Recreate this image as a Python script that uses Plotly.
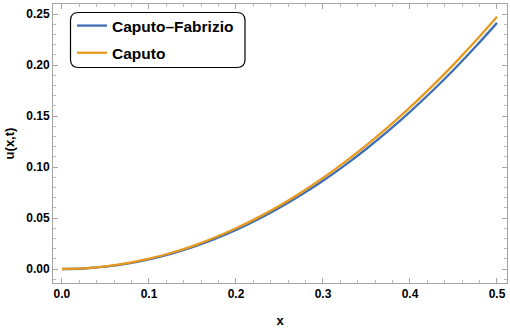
import plotly.graph_objects as go

x_vals = [0, 0.025, 0.05, 0.075, 0.1, 0.125, 0.15, 0.175, 0.2, 0.225, 0.25,
          0.275, 0.3, 0.325, 0.35, 0.375, 0.4, 0.425, 0.45, 0.475, 0.5]
caputo_fabrizio = [0, 0.0005, 0.0023, 0.0053, 0.0095, 0.0149, 0.0214, 0.0292, 0.0382, 0.0485, 0.0600,
                   0.0727, 0.0865, 0.1016, 0.1179, 0.1354, 0.1541, 0.1740, 0.1951, 0.2176, 0.2413]
caputo = [0, 0.0006, 0.0025, 0.0057, 0.0101, 0.0157, 0.0225, 0.0306, 0.0399, 0.0504, 0.0621,
          0.0751, 0.0893, 0.1048, 0.1214, 0.1393, 0.1585, 0.1788, 0.2004, 0.2232, 0.2472]
series_names = ["Caputo\u2013Fabrizio", "Caputo"]
x_ticks = [0.0, 0.1, 0.2, 0.3, 0.4, 0.5]
y_ticks = [0.00, 0.05, 0.10, 0.15, 0.20, 0.25]

BLUE = "#3F6EB4"
ORANGE = "#E8991C"
FONT = "Liberation Sans, Arial, sans-serif"

fig = go.Figure()
fig.add_trace(go.Scatter(x=x_vals, y=caputo_fabrizio, mode="lines", name=series_names[0],
                         legendgroup="a",
                         line=dict(color=BLUE, width=2.3, shape="spline")))
fig.add_trace(go.Scatter(x=x_vals, y=caputo, mode="lines", name=series_names[1],
                         legendgroup="b",
                         line=dict(color=ORANGE, width=2.3, shape="spline")))

axis_common = dict(
    showline=True, linecolor="#A6A6A6", linewidth=1, mirror="ticks",
    ticks="inside", ticklen=5, tickwidth=1, tickcolor="#A6A6A6",
    showgrid=False, zeroline=False, automargin=False,
    tickfont=dict(family=FONT, size=12, color="black", weight="bold"),
)

fig.update_xaxes(range=[-0.0103, 0.5115], tickvals=x_ticks, tickformat=".1f",
                 minor=dict(dtick=0.02, tick0=0, ticks="inside", ticklen=3, tickcolor="#BBBBBB"),
                 title=dict(text="x", font=dict(family=FONT, size=13, color="black", weight="bold"), standoff=19),
                 **axis_common)
fig.update_yaxes(range=[-0.0137, 0.2598], tickvals=y_ticks, tickformat=".2f",
                 minor=dict(dtick=0.01, tick0=0, ticks="inside", ticklen=3, tickcolor="#BBBBBB"),
                 title=dict(text="u(x,t)", font=dict(family=FONT, size=13, color="black", weight="bold"), standoff=8),
                 **axis_common)

# rounded legend frame (pixel-based in paper coords)
plot_l, plot_r, plot_t, plot_b = 53, 507, 4, 283
pw, ph = plot_r - plot_l, plot_b - plot_t
def px(xp): return (xp - plot_l) / pw
def py(yp): return (plot_b - yp) / ph
L, R, T, B, r = 70.5, 245, 12.5, 67.5, 8
path = (f"M {px(L + r)},{py(T)} L {px(R - r)},{py(T)} Q {px(R)},{py(T)} {px(R)},{py(T + r)} "
        f"L {px(R)},{py(B - r)} Q {px(R)},{py(B)} {px(R - r)},{py(B)} "
        f"L {px(L + r)},{py(B)} Q {px(L)},{py(B)} {px(L)},{py(B - r)} "
        f"L {px(L)},{py(T + r)} Q {px(L)},{py(T)} {px(L + r)},{py(T)} Z")
fig.add_shape(type="path", path=path, xref="paper", yref="paper",
              line=dict(color="black", width=1.2), fillcolor="white", layer="below")

fig.update_layout(
    width=510, height=328,
    margin=dict(l=53, r=3, t=4, b=45, autoexpand=False),
    paper_bgcolor="white", plot_bgcolor="white",
    showlegend=True,
    legend=dict(x=px(72), y=py(9), xanchor="left", yanchor="top",
                bgcolor="rgba(0,0,0,0)", borderwidth=0,
                font=dict(family=FONT, size=15.5, color="black", weight="bold"),
                itemwidth=30, tracegroupgap=4, traceorder="grouped"),
)

fig.write_html("out.html", config={"displayModeBar": False},
               post_script="document.body.style.margin='0';document.body.style.padding='0';")
